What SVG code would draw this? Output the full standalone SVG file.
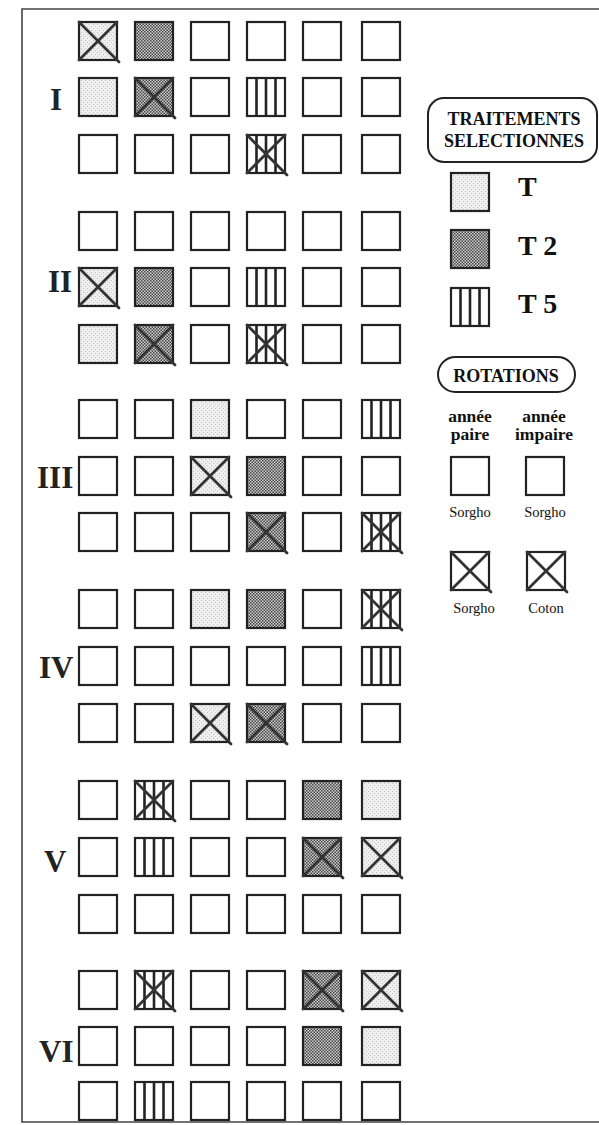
<svg xmlns="http://www.w3.org/2000/svg" xmlns:xlink="http://www.w3.org/1999/xlink" width="599" height="1125" viewBox="0 0 599 1125">
<style>
.bx{stroke:#222;stroke-width:2.2;}
.ln{stroke:#222;stroke-width:2.6;}
.xx{stroke:#333;stroke-width:2.8;stroke-linecap:round;}
.frame{stroke:#444;stroke-width:1.6;fill:none;}
.rom{font-family:"Liberation Serif",serif;font-weight:bold;font-size:31px;fill:#222;}
.hd{font-family:"Liberation Serif",serif;font-weight:bold;font-size:18px;fill:#111;text-anchor:middle;}
.lg{font-family:"Liberation Serif",serif;font-weight:bold;font-size:28px;fill:#111;}
.yr{font-family:"Liberation Serif",serif;font-weight:bold;font-size:17.5px;fill:#111;text-anchor:middle;}
.cr{font-family:"Liberation Serif",serif;font-size:14.5px;fill:#111;text-anchor:middle;}
.pill{fill:#fff;stroke:#222;stroke-width:2;}
</style>
<defs>
<pattern id="pT" width="4" height="4" patternUnits="userSpaceOnUse">
<rect width="4" height="4" fill="#eeeeee"/>
<rect x="0" y="0" width="1" height="1" fill="#c4c4c4"/>
<rect x="2" y="2" width="1" height="1" fill="#c4c4c4"/>
</pattern>
<pattern id="pT2" width="3" height="3" patternUnits="userSpaceOnUse">
<rect width="3" height="3" fill="#cfcfcf"/>
<rect x="0" y="0" width="1.5" height="1.5" fill="#444"/>
<rect x="1.5" y="1.5" width="1.5" height="1.5" fill="#444"/>
</pattern>
<g id="E"><rect class="bx" x="0" y="0" width="38" height="38" fill="#fff"/></g>
<g id="T"><rect class="bx" x="0" y="0" width="38" height="38" fill="url(#pT)"/></g>
<g id="T2"><rect class="bx" x="0" y="0" width="38" height="38" fill="url(#pT2)"/></g>
<g id="T5"><rect class="bx" x="0" y="0" width="38" height="38" fill="#fff"/><path class="ln" d="M9.5 0V38M19 0V38M28.5 0V38"/></g>
<g id="X"><path class="xx" d="M0 0L40 40M38 0L0 38"/></g>
</defs>

<g id="frame">
<path class="frame" d="M599 9H22V1122H599"/>
</g>

<g id="labels">
<text class="rom" x="50" y="110">I</text>
<text class="rom" x="48" y="292">II</text>
<text class="rom" x="37" y="488">III</text>
<text class="rom" x="39" y="678">IV</text>
<text class="rom" x="44" y="872">V</text>
<text class="rom" x="39" y="1062">VI</text>
</g>

<!-- Block I -->
<g id="block-I">
<g id="I-1-1" transform="translate(79,22)"><use href="#T"/><use href="#X"/></g>
<g id="I-1-2" transform="translate(135,22)"><use href="#T2"/></g>
<g id="I-1-3" transform="translate(191,22)"><use href="#E"/></g>
<g id="I-1-4" transform="translate(247,22)"><use href="#E"/></g>
<g id="I-1-5" transform="translate(303,22)"><use href="#E"/></g>
<g id="I-1-6" transform="translate(362,22)"><use href="#E"/></g>
<g id="I-2-1" transform="translate(79,78)"><use href="#T"/></g>
<g id="I-2-2" transform="translate(135,78)"><use href="#T2"/><use href="#X"/></g>
<g id="I-2-3" transform="translate(191,78)"><use href="#E"/></g>
<g id="I-2-4" transform="translate(247,78)"><use href="#T5"/></g>
<g id="I-2-5" transform="translate(303,78)"><use href="#E"/></g>
<g id="I-2-6" transform="translate(362,78)"><use href="#E"/></g>
<g id="I-3-1" transform="translate(79,135)"><use href="#E"/></g>
<g id="I-3-2" transform="translate(135,135)"><use href="#E"/></g>
<g id="I-3-3" transform="translate(191,135)"><use href="#E"/></g>
<g id="I-3-4" transform="translate(247,135)"><use href="#T5"/><use href="#X"/></g>
<g id="I-3-5" transform="translate(303,135)"><use href="#E"/></g>
<g id="I-3-6" transform="translate(362,135)"><use href="#E"/></g>
</g>

<!-- Block II -->
<g id="block-II">
<g id="II-1-1" transform="translate(79,212)"><use href="#E"/></g>
<g id="II-1-2" transform="translate(135,212)"><use href="#E"/></g>
<g id="II-1-3" transform="translate(191,212)"><use href="#E"/></g>
<g id="II-1-4" transform="translate(247,212)"><use href="#E"/></g>
<g id="II-1-5" transform="translate(303,212)"><use href="#E"/></g>
<g id="II-1-6" transform="translate(362,212)"><use href="#E"/></g>
<g id="II-2-1" transform="translate(79,268)"><use href="#T"/><use href="#X"/></g>
<g id="II-2-2" transform="translate(135,268)"><use href="#T2"/></g>
<g id="II-2-3" transform="translate(191,268)"><use href="#E"/></g>
<g id="II-2-4" transform="translate(247,268)"><use href="#T5"/></g>
<g id="II-2-5" transform="translate(303,268)"><use href="#E"/></g>
<g id="II-2-6" transform="translate(362,268)"><use href="#E"/></g>
<g id="II-3-1" transform="translate(79,325)"><use href="#T"/></g>
<g id="II-3-2" transform="translate(135,325)"><use href="#T2"/><use href="#X"/></g>
<g id="II-3-3" transform="translate(191,325)"><use href="#E"/></g>
<g id="II-3-4" transform="translate(247,325)"><use href="#T5"/><use href="#X"/></g>
<g id="II-3-5" transform="translate(303,325)"><use href="#E"/></g>
<g id="II-3-6" transform="translate(362,325)"><use href="#E"/></g>
</g>

<!-- Block III -->
<g id="block-III">
<g id="III-1-1" transform="translate(79,400)"><use href="#E"/></g>
<g id="III-1-2" transform="translate(135,400)"><use href="#E"/></g>
<g id="III-1-3" transform="translate(191,400)"><use href="#T"/></g>
<g id="III-1-4" transform="translate(247,400)"><use href="#E"/></g>
<g id="III-1-5" transform="translate(303,400)"><use href="#E"/></g>
<g id="III-1-6" transform="translate(362,400)"><use href="#T5"/></g>
<g id="III-2-1" transform="translate(79,457)"><use href="#E"/></g>
<g id="III-2-2" transform="translate(135,457)"><use href="#E"/></g>
<g id="III-2-3" transform="translate(191,457)"><use href="#T"/><use href="#X"/></g>
<g id="III-2-4" transform="translate(247,457)"><use href="#T2"/></g>
<g id="III-2-5" transform="translate(303,457)"><use href="#E"/></g>
<g id="III-2-6" transform="translate(362,457)"><use href="#E"/></g>
<g id="III-3-1" transform="translate(79,513)"><use href="#E"/></g>
<g id="III-3-2" transform="translate(135,513)"><use href="#E"/></g>
<g id="III-3-3" transform="translate(191,513)"><use href="#E"/></g>
<g id="III-3-4" transform="translate(247,513)"><use href="#T2"/><use href="#X"/></g>
<g id="III-3-5" transform="translate(303,513)"><use href="#E"/></g>
<g id="III-3-6" transform="translate(362,513)"><use href="#T5"/><use href="#X"/></g>
</g>

<!-- Block IV -->
<g id="block-IV">
<g id="IV-1-1" transform="translate(79,590)"><use href="#E"/></g>
<g id="IV-1-2" transform="translate(135,590)"><use href="#E"/></g>
<g id="IV-1-3" transform="translate(191,590)"><use href="#T"/></g>
<g id="IV-1-4" transform="translate(247,590)"><use href="#T2"/></g>
<g id="IV-1-5" transform="translate(303,590)"><use href="#E"/></g>
<g id="IV-1-6" transform="translate(362,590)"><use href="#T5"/><use href="#X"/></g>
<g id="IV-2-1" transform="translate(79,647)"><use href="#E"/></g>
<g id="IV-2-2" transform="translate(135,647)"><use href="#E"/></g>
<g id="IV-2-3" transform="translate(191,647)"><use href="#E"/></g>
<g id="IV-2-4" transform="translate(247,647)"><use href="#E"/></g>
<g id="IV-2-5" transform="translate(303,647)"><use href="#E"/></g>
<g id="IV-2-6" transform="translate(362,647)"><use href="#T5"/></g>
<g id="IV-3-1" transform="translate(79,704)"><use href="#E"/></g>
<g id="IV-3-2" transform="translate(135,704)"><use href="#E"/></g>
<g id="IV-3-3" transform="translate(191,704)"><use href="#T"/><use href="#X"/></g>
<g id="IV-3-4" transform="translate(247,704)"><use href="#T2"/><use href="#X"/></g>
<g id="IV-3-5" transform="translate(303,704)"><use href="#E"/></g>
<g id="IV-3-6" transform="translate(362,704)"><use href="#E"/></g>
</g>

<!-- Block V -->
<g id="block-V">
<g id="V-1-1" transform="translate(79,781)"><use href="#E"/></g>
<g id="V-1-2" transform="translate(135,781)"><use href="#T5"/><use href="#X"/></g>
<g id="V-1-3" transform="translate(191,781)"><use href="#E"/></g>
<g id="V-1-4" transform="translate(247,781)"><use href="#E"/></g>
<g id="V-1-5" transform="translate(303,781)"><use href="#T2"/></g>
<g id="V-1-6" transform="translate(362,781)"><use href="#T"/></g>
<g id="V-2-1" transform="translate(79,838)"><use href="#E"/></g>
<g id="V-2-2" transform="translate(135,838)"><use href="#T5"/></g>
<g id="V-2-3" transform="translate(191,838)"><use href="#E"/></g>
<g id="V-2-4" transform="translate(247,838)"><use href="#E"/></g>
<g id="V-2-5" transform="translate(303,838)"><use href="#T2"/><use href="#X"/></g>
<g id="V-2-6" transform="translate(362,838)"><use href="#T"/><use href="#X"/></g>
<g id="V-3-1" transform="translate(79,895)"><use href="#E"/></g>
<g id="V-3-2" transform="translate(135,895)"><use href="#E"/></g>
<g id="V-3-3" transform="translate(191,895)"><use href="#E"/></g>
<g id="V-3-4" transform="translate(247,895)"><use href="#E"/></g>
<g id="V-3-5" transform="translate(303,895)"><use href="#E"/></g>
<g id="V-3-6" transform="translate(362,895)"><use href="#E"/></g>
</g>

<!-- Block VI -->
<g id="block-VI">
<g id="VI-1-1" transform="translate(79,971)"><use href="#E"/></g>
<g id="VI-1-2" transform="translate(135,971)"><use href="#T5"/><use href="#X"/></g>
<g id="VI-1-3" transform="translate(191,971)"><use href="#E"/></g>
<g id="VI-1-4" transform="translate(247,971)"><use href="#E"/></g>
<g id="VI-1-5" transform="translate(303,971)"><use href="#T2"/><use href="#X"/></g>
<g id="VI-1-6" transform="translate(362,971)"><use href="#T"/><use href="#X"/></g>
<g id="VI-2-1" transform="translate(79,1027)"><use href="#E"/></g>
<g id="VI-2-2" transform="translate(135,1027)"><use href="#E"/></g>
<g id="VI-2-3" transform="translate(191,1027)"><use href="#E"/></g>
<g id="VI-2-4" transform="translate(247,1027)"><use href="#E"/></g>
<g id="VI-2-5" transform="translate(303,1027)"><use href="#T2"/></g>
<g id="VI-2-6" transform="translate(362,1027)"><use href="#T"/></g>
<g id="VI-3-1" transform="translate(79,1082)"><use href="#E"/></g>
<g id="VI-3-2" transform="translate(135,1082)"><use href="#T5"/></g>
<g id="VI-3-3" transform="translate(191,1082)"><use href="#E"/></g>
<g id="VI-3-4" transform="translate(247,1082)"><use href="#E"/></g>
<g id="VI-3-5" transform="translate(303,1082)"><use href="#E"/></g>
<g id="VI-3-6" transform="translate(362,1082)"><use href="#E"/></g>
</g>

<!-- Legend: treatments -->
<g id="legend-traitements">
<rect class="pill" x="428" y="98" width="169" height="64" rx="16"/>
<text class="hd" x="514" y="125">TRAITEMENTS</text>
<text class="hd" x="514" y="147">SELECTIONNES</text>
</g>
<g id="legend-T" transform="translate(451,173)"><use href="#T"/><text class="lg" x="67" y="23">T</text></g>
<g id="legend-T2" transform="translate(451,230)"><use href="#T2"/><text class="lg" x="67" y="25">T 2</text></g>
<g id="legend-T5" transform="translate(451,288)"><use href="#T5"/><text class="lg" x="67" y="25">T 5</text></g>

<!-- Legend: rotations -->
<g id="legend-rotations">
<rect class="pill" x="438" y="357" width="137" height="35" rx="17.5"/>
<text class="hd" x="506" y="382">ROTATIONS</text>
</g>
<g id="legend-years">
<text class="yr" x="470" y="422">année</text>
<text class="yr" x="470" y="440">paire</text>
<text class="yr" x="544" y="422">année</text>
<text class="yr" x="544" y="440">impaire</text>
</g>
<g id="rot-sorgho-sorgho">
<use href="#E" x="451" y="457"/>
<text class="cr" x="470" y="517">Sorgho</text>
<use href="#E" x="526" y="457"/>
<text class="cr" x="545" y="517">Sorgho</text>
</g>
<g id="rot-sorgho-coton">
<use href="#E" x="451" y="552"/><use href="#X" x="451" y="552"/>
<text class="cr" x="474" y="613">Sorgho</text>
<use href="#E" x="527" y="552"/><use href="#X" x="527" y="552"/>
<text class="cr" x="546" y="613">Coton</text>
</g>
</svg>
